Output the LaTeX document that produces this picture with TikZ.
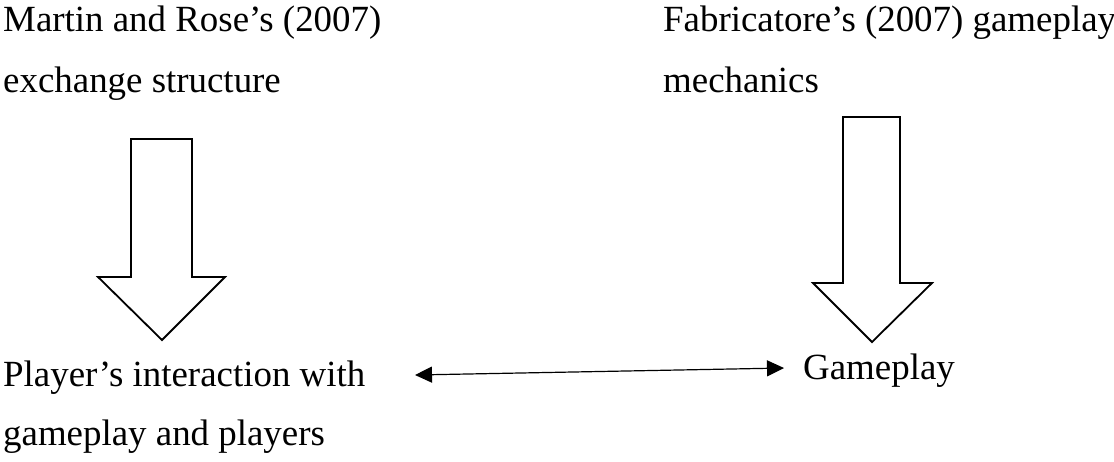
\documentclass[tikz,border=0pt]{standalone}
\usepackage{fontspec}
\setmainfont{Liberation Serif}
\usetikzlibrary{arrows.meta}
\begin{document}
\begin{tikzpicture}[x=1pt,y=-1pt,
  label text/.style={anchor=base west,inner sep=0pt,font=\fontsize{36.9}{44}\selectfont},
  block arrow/.style={draw=black,line width=1.8pt,line join=miter,fill=white},
  link/.style={line width=1.2pt,{Triangle[length=17pt,width=16pt]}-{Triangle[length=17pt,width=16pt]}}]
\useasboundingbox (0,0) rectangle (1114,461);
% source texts
\node[label text] (mr1) at (3,31) {Martin and Rose’s (2007)};
\node[label text] (mr2) at (3,92) {exchange structure};
\node[label text] (fb1) at (663,31) {Fabricatore’s (2007) gameplay};
\node[label text] (fb2) at (663,92) {mechanics};
% result texts
\node[label text] (pi1) at (3,386) {Player’s interaction with};
\node[label text] (pi2) at (3,445) {gameplay and players};
\node[label text] (gp) at (803,379) {Gameplay};
% block arrows
\draw[block arrow] (131,139) -- (192,139) -- (192,277) -- (225,277) -- (162,340)
  -- (98,277) -- (131,277) -- cycle;
\draw[block arrow] (843,117) -- (900,117) -- (900,283) -- (932,283) -- (872,342)
  -- (813,283) -- (843,283) -- cycle;
% two-way link between results
\coordinate (la) at (415,375);
\coordinate (lb) at (784,368);
\draw[link] (la) -- (lb);
\end{tikzpicture}
\end{document}
